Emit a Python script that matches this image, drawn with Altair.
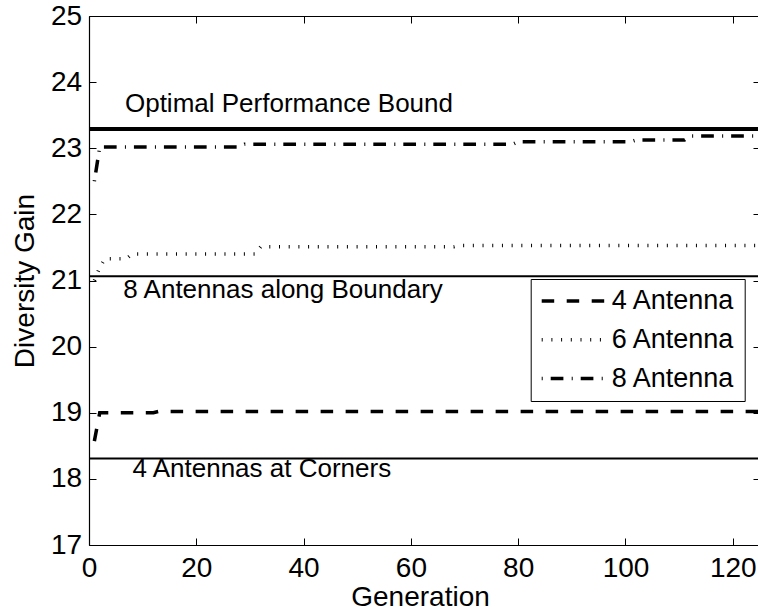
import altair as alt
import pandas as pd

FONT = "Liberation Sans"

# ---- convergence curves (generation, diversity gain) ----
gen_4 = [1, 2, 12, 13, 125]
val_4 = [18.57, 19.0, 19.0, 19.02, 19.02]

gen_6 = [1, 2, 3, 7, 8, 31, 32, 68, 69, 125]
val_6 = [21.0, 21.2, 21.33, 21.33, 21.4, 21.4, 21.51, 21.51, 21.53, 21.53]

gen_8 = [1, 2, 28, 29, 79, 80, 101, 102, 111, 112, 125]
val_8 = [22.5, 23.02, 23.02, 23.06, 23.06, 23.1, 23.1, 23.125, 23.125, 23.185, 23.185]

series_names = ["4 Antenna", "6 Antenna", "8 Antenna"]
series_dash = [[12.5, 12.5], [1, 8.7], [1, 8, 12.7, 8.3]]

# ---- horizontal reference levels ----
ref_names = ["Optimal Performance Bound", "8 Antennas along Boundary", "4 Antennas at Corners"]
ref_values = [23.29, 21.065, 18.31]
ref_widths = [4, 2, 2]
label_gen = [6.7, 6.4, 8.1]
label_gain = [23.553, 20.731, 18.033]

x_ticks = [0, 20, 40, 60, 80, 100, 120]
y_ticks = [17, 18, 19, 20, 21, 22, 23, 24, 25]

X_MIN, X_MAX = 0, 124.7
Y_MIN, Y_MAX = 17, 25

curves = pd.DataFrame(
    {
        "series": ["4 Antenna"] * len(gen_4) + ["6 Antenna"] * len(gen_6) + ["8 Antenna"] * len(gen_8),
        "generation": gen_4 + gen_6 + gen_8,
        "gain": val_4 + val_6 + val_8,
    }
)
refs = pd.DataFrame(
    {
        "name": ref_names,
        "gain": ref_values,
        "width": ref_widths,
        "x0": [0] * 3,
        "x1": [125] * 3,
        "lx": label_gen,
        "ly": label_gain,
    }
)

xs = alt.Scale(domain=[X_MIN, X_MAX], nice=False, zero=False)
ys = alt.Scale(domain=[Y_MIN, Y_MAX], nice=False, zero=False)

common_axis = dict(grid=False, domainColor="black", tickColor="black", labelColor="black",
                   titleColor="black", domainWidth=1.2, tickWidth=1)


def inward(orient, values, size=7):
    return alt.Axis(orient=orient, values=values, title=None, labels=False, domain=False,
                    ticks=True, tickSize=size, offset=-size, **common_axis)


# curves with labelled bottom/left axes and the legend
curve_layer = alt.Chart(curves).mark_line(color="black", strokeWidth=3.5, clip=True).encode(
    x=alt.X("generation:Q", scale=xs,
            axis=alt.Axis(orient="bottom", values=x_ticks, title="Generation", ticks=False, tickSize=0,
                          labelFontSize=28, labelFont=FONT, labelPadding=31.7,
                          labelBaseline="alphabetic", labelFlush=False, labelOverlap=False,
                          titleFont=FONT, titleFontSize=28, titleFontWeight="normal",
                          titleX=331, titleY=60, titleBaseline="alphabetic", titleAlign="center",
                          **common_axis)),
    y=alt.Y("gain:Q", scale=ys,
            axis=alt.Axis(orient="left", values=y_ticks, title="Diversity Gain", ticks=False, tickSize=0,
                          labelFontSize=28, labelFont=FONT, labelPadding=7.3, labelFlush=False,
                          labelOverlap=False, titleFont=FONT, titleFontSize=28,
                          titleFontWeight="normal", titleAngle=270, titleX=-55.7, titleY=264.5,
                          titleBaseline="alphabetic", titleAlign="center", **common_axis)),
    strokeDash=alt.StrokeDash(
        "series:N",
        scale=alt.Scale(domain=series_names, range=series_dash),
        legend=alt.Legend(title=None, orient="none", legendX=441.7, legendY=263,
                          symbolType="stroke", symbolSize=4356, symbolStrokeWidth=3.5,
                          symbolStrokeColor="black", clipHeight=26, labelFontSize=27,
                          labelFont=FONT, labelColor="black", labelOffset=2, labelLimit=400,
                          padding=9, rowPadding=11.8, strokeColor="black", fillColor="white",
                          symbolOffset=0),
    ),
    detail="series:N",
)

# annotation texts; carries the top frame line and the right inward ticks
text_layer = alt.Chart(refs).mark_text(align="left", baseline="alphabetic", font=FONT,
                                       fontSize=26, color="black").encode(
    x=alt.X("lx:Q", scale=xs,
            axis=alt.Axis(orient="top", values=x_ticks, title=None, labels=False, ticks=False,
                          domain=True, **common_axis)),
    y=alt.Y("ly:Q", scale=ys, axis=inward("right", y_ticks, 5)),
    text="name:N",
)

# thin reference levels; inward ticks on bottom and left
thin_layer = alt.Chart(refs).transform_filter("datum.width < 3").mark_rule(color="black", clip=True).encode(
    x=alt.X("x0:Q", scale=xs, axis=inward("bottom", x_ticks)),
    x2="x1:Q",
    y=alt.Y("gain:Q", scale=ys, axis=inward("left", y_ticks)),
    strokeWidth=alt.StrokeWidth("width:Q", scale=None, legend=None),
)

# optimal bound; inward ticks on top
bound_layer = alt.Chart(refs).transform_filter("datum.width >= 3").mark_rule(color="black", clip=True).encode(
    x=alt.X("x0:Q", scale=xs, axis=inward("top", x_ticks)),
    x2="x1:Q",
    y=alt.Y("gain:Q", scale=ys, axis=None),
    strokeWidth=alt.StrokeWidth("width:Q", scale=None, legend=None),
)

chart = (
    alt.layer(curve_layer, text_layer, thin_layer, bound_layer)
    .resolve_axis(x="independent", y="independent")
    .properties(width=669, height=529,
                padding={"left": 89, "top": 16, "right": 0, "bottom": 68},
                autosize=alt.AutoSizeParams(type="none"),
                background="white")
    .configure_view(stroke=None)
)

chart.save("out.html", embed_options={"renderer": "svg", "actions": False})
